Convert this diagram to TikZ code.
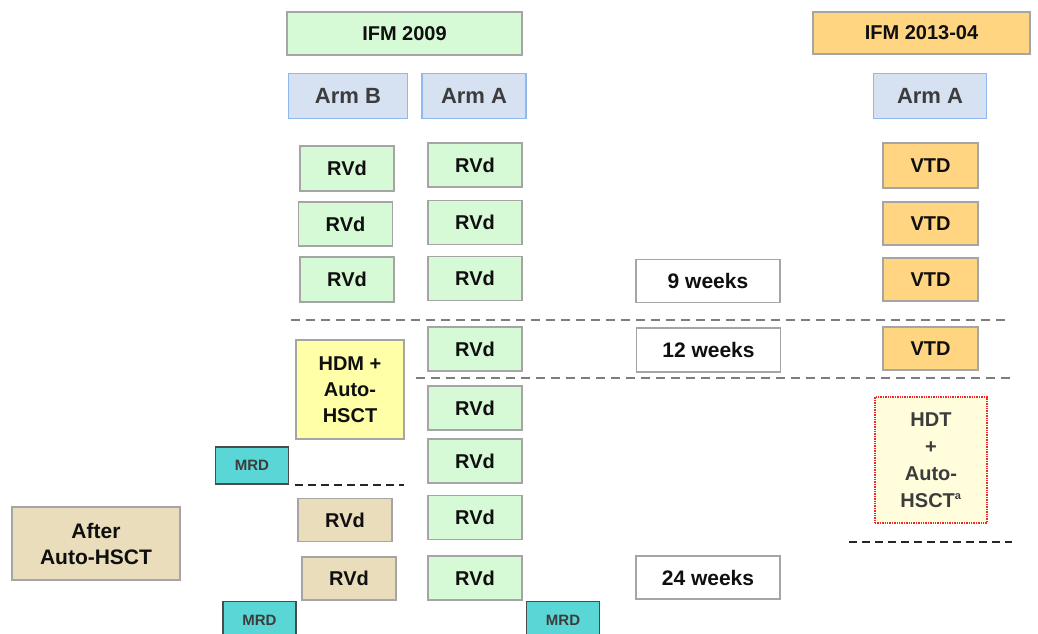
\documentclass[tikz,border=0pt]{standalone}
\usepackage{fontspec}
\setmainfont{Liberation Sans}
\usetikzlibrary{positioning}

\definecolor{rvgreen}{RGB}{214,249,214}
\definecolor{vtdorange}{RGB}{255,213,130}
\definecolor{armfill}{RGB}{214,225,242}
\definecolor{armline}{RGB}{145,183,240}
\definecolor{tanfill}{RGB}{233,221,187}
\definecolor{mrdfill}{RGB}{90,214,214}
\definecolor{hdmfill}{RGB}{255,255,168}
\definecolor{hdtfill}{RGB}{255,253,220}
\definecolor{hdtline}{RGB}{240,40,40}
\definecolor{boxline}{RGB}{165,165,165}
\definecolor{sepgray}{RGB}{125,125,125}
\definecolor{darktext}{RGB}{15,15,15}
\definecolor{armtext}{RGB}{60,60,60}

\tikzset{
  base/.style={rectangle, inner sep=0pt, outer sep=0pt, draw=boxline,
    line width=1.6pt, align=center, text=darktext,
    font=\fontsize{20}{22}\selectfont\bfseries},
  rvd/.style={base, fill=rvgreen, minimum width=94pt, minimum height=44pt},
  tanrvd/.style={base, fill=tanfill, minimum width=94pt, minimum height=43pt},
  vtd/.style={base, fill=vtdorange, minimum width=95pt, minimum height=44pt},
  header/.style={base, minimum height=43pt, font=\fontsize{20}{22}\selectfont\bfseries},
  armbox/.style={base, fill=armfill, draw=armline, line width=1.3pt,
    minimum height=45pt, text=armtext, font=\fontsize{22}{24}\selectfont\bfseries},
  weeks/.style={base, fill=white, minimum width=144pt, minimum height=43pt,
    font=\fontsize{21}{23}\selectfont\bfseries},
  mrd/.style={base, fill=mrdfill, draw=darktext!75, line width=1.2pt,
    minimum width=73pt, minimum height=37pt, text=armtext,
    font=\fontsize{15}{17}\selectfont\bfseries},
  sepline/.style={draw=sepgray, line width=2.8pt, dash pattern=on 9pt off 6pt},
  blackdash/.style={draw=black!85, line width=2.4pt, dash pattern=on 8pt off 5pt},
}

\begin{document}
\begin{tikzpicture}[x=1pt, y=-1pt]
  \useasboundingbox (0,0) rectangle (1038,634);
  \clip (0,0) rectangle (1038,634);

  % study headers
  \node[header, fill=rvgreen, minimum width=235pt] (ifm09) at (404.5,33.5) {IFM 2009};
  \node[header, fill=vtdorange, minimum width=217pt, minimum height=42pt] (ifm13) at (921.5,33) {IFM 2013-04};

  % arms
  \node[armbox, minimum width=119pt] (armB) at (348,96) {Arm B};
  \node[armbox, minimum width=104pt] (armA) at (474,96) {Arm A};
  \node[armbox, minimum width=113pt] (armA13) at (930,96) {Arm A};

  % IFM 2009, arm B induction
  \node[rvd, minimum height=45pt] (b1) at (347,168.5) {RVd};
  \node[rvd] (b2) at (345.5,224) {RVd};
  \node[rvd, minimum height=45pt] (b3) at (347,279.5) {RVd};
  \node[base, fill=hdmfill, minimum width=108pt, minimum height=99pt,
        font=\fontsize{20}{26}\selectfont\bfseries] (hdm) at (350,389.5) {HDM +\\Auto-\\HSCT};
  \node[tanrvd] (c1) at (345,520) {RVd};
  \node[tanrvd] (c2) at (349,578.5) {RVd};

  % IFM 2009, arm A cycles
  \node[rvd] (a1) at (475,165) {RVd};
  \node[rvd] (a2) at (475,222.5) {RVd};
  \node[rvd] (a3) at (475,278.5) {RVd};
  \node[rvd] (a4) at (475,349) {RVd};
  \node[rvd] (a5) at (475,408) {RVd};
  \node[rvd] (a6) at (475,461) {RVd};
  \node[rvd] (a7) at (475,517.5) {RVd};
  \node[rvd] (a8) at (475,578) {RVd};

  % MRD assessments
  \node[mrd] (mrd1) at (252,465.5) {MRD};
  \node[mrd] (mrd2) at (259.5,620) {MRD};
  \node[mrd] (mrd3) at (563,620) {MRD};

  % after transplant label
  \node[base, fill=tanfill, minimum width=168pt, minimum height=73pt,
        font=\fontsize{21}{26}\selectfont\bfseries] (after) at (96,543.5) {After\\Auto-HSCT};

  % time points
  \node[weeks] (w9) at (708,281) {9 weeks};
  \node[weeks, minimum height=44pt] (w12) at (708.5,350) {12 weeks};
  \node[weeks] (w24) at (708,577.5) {24 weeks};

  % IFM 2013-04, arm A
  \node[vtd, minimum height=45pt] (v1) at (930.5,165.5) {VTD};
  \node[vtd, minimum height=43pt] (v2) at (930.5,223.5) {VTD};
  \node[vtd, minimum height=43pt] (v3) at (930.5,279.5) {VTD};
  \node[vtd, minimum height=43pt] (v4) at (930.5,348.5) {VTD};
  \node[base, fill=hdtfill, draw=hdtline, line width=1.4pt, densely dotted,
        minimum width=112pt, minimum height=126pt, text=armtext,
        font=\fontsize{20}{27}\selectfont\bfseries] (hdt) at (931,460)
        {HDT\\+\\Auto-\\HSCT\textsuperscript{\fontsize{11}{11}\selectfont a}};

  % phase separators
  \coordinate (s1l) at (291,320); \coordinate (s1r) at (1010,320);
  \coordinate (s2l) at (416,378); \coordinate (s2r) at (1010,378);
  \draw[sepline] (s1l) -- (s1r);
  \draw[sepline] (s2l) -- (s2r);

  \coordinate (k1l) at (295,485); \coordinate (k1r) at (404,485);
  \coordinate (k2l) at (849,542); \coordinate (k2r) at (1012,542);
  \draw[blackdash] (k1l) -- (k1r);
  \draw[blackdash] (k2l) -- (k2r);
\end{tikzpicture}
\end{document}
